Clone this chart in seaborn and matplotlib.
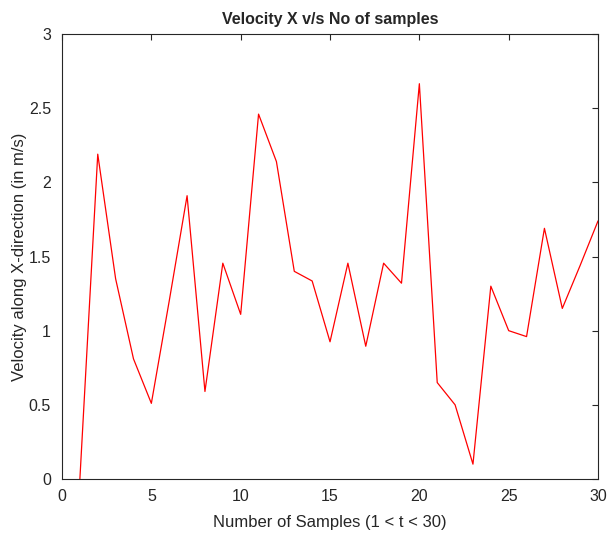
import matplotlib
matplotlib.use("Agg")
import matplotlib.pyplot as plt
import seaborn as sns
import pandas as pd

# values
samples = list(range(1, 31))
velocity_x = [0.0, 2.19, 1.35, 0.81, 0.51, 1.20, 1.91, 0.59, 1.455, 1.11,
              2.46, 2.14, 1.40, 1.335, 0.925, 1.455, 0.895, 1.455, 1.32, 2.665,
              0.65, 0.50, 0.10, 1.30, 1.00, 0.96, 1.69, 1.15, 1.44, 1.74]
x_ticks = [0, 5, 10, 15, 20, 25, 30]
y_ticks = [0, 0.5, 1, 1.5, 2, 2.5, 3]
y_labels = ["0", "0.5", "1", "1.5", "2", "2.5", "3"]

df = pd.DataFrame({"t": samples, "vx": velocity_x})

sns.set_style("white")
plt.rcParams["font.family"] = ["Liberation Sans", "DejaVu Sans"]

fig = plt.figure(figsize=(6.08, 5.35), dpi=100)
ax = fig.add_axes([0.102, 0.1047, 0.8816, 0.8317])

sns.lineplot(data=df, x="t", y="vx", color="#ff0000", linewidth=0.9, ax=ax)

ax.set_xlim(0, 30)
ax.set_ylim(0, 3)
ax.set_xticks(x_ticks)
ax.set_xticklabels([str(v) for v in x_ticks])
ax.set_yticks(y_ticks)
ax.set_yticklabels(y_labels)

for s in ax.spines.values():
    s.set_visible(True)
    s.set_color("#262626")
    s.set_linewidth(0.8)
ax.tick_params(direction="in", top=True, right=True, length=4, width=0.8,
               colors="#262626", labelsize=11.5)
ax.tick_params(axis="x", pad=7)
ax.tick_params(axis="y", pad=8)

ax.set_xlabel("Number of Samples (1 < t < 30)", fontsize=12, color="#262626",
              labelpad=8)
ax.set_ylabel("Velocity along X-direction (in m/s)", fontsize=12, color="#262626",
              labelpad=1)
ax.set_title("Velocity X v/s No of samples", fontsize=11.5, fontweight="bold", pad=7)

fig.savefig("out.png", dpi=100)
